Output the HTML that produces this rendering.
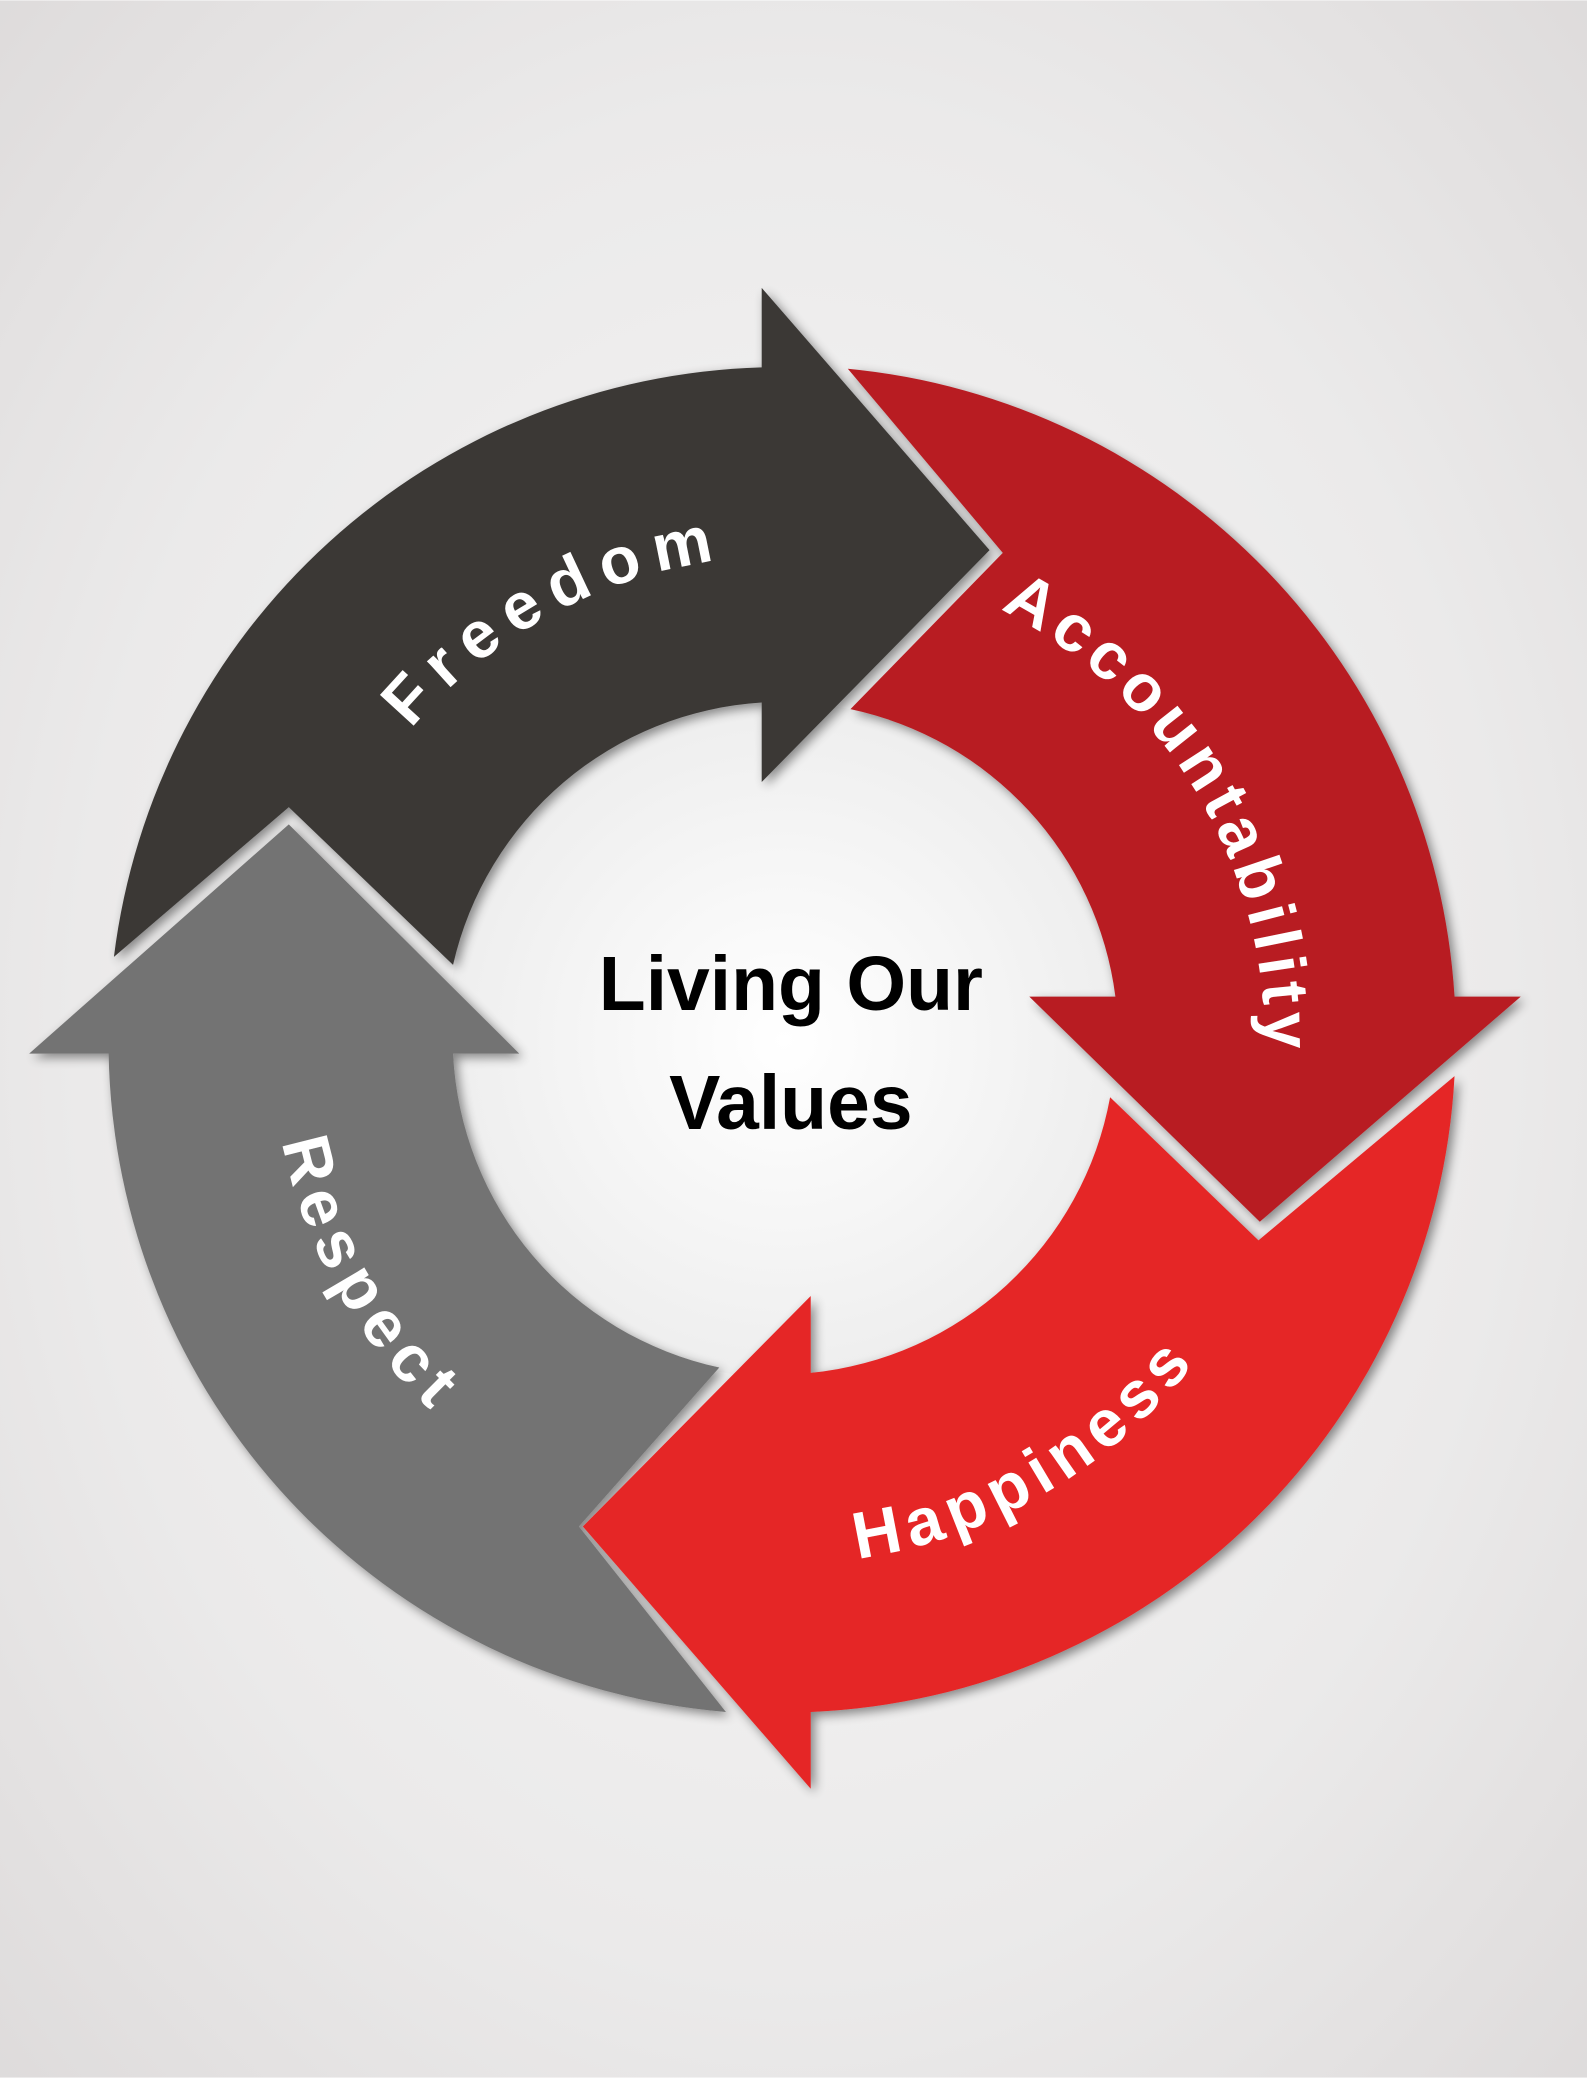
<!DOCTYPE html>
<html><head><meta charset="utf-8"><style>
html,body{margin:0;padding:0;width:1587px;height:2078px;overflow:hidden;}
svg{display:block;}
</style></head><body>
<svg width="1587" height="2078" viewBox="0 0 1198 1568" xmlns="http://www.w3.org/2000/svg">
<defs>
<radialGradient id="bg" cx="50%" cy="50%" r="75%">
<stop offset="0" stop-color="#f7f7f7"/><stop offset="0.6" stop-color="#ebeaea"/><stop offset="1" stop-color="#dcd9d9"/>
</radialGradient>
<radialGradient id="cg" cx="50%" cy="50%" r="50%">
<stop offset="0" stop-color="#ffffff"/><stop offset="1" stop-color="#eeeeee"/>
</radialGradient>
<filter id="sh" x="-10%" y="-10%" width="120%" height="120%">
<feGaussianBlur in="SourceAlpha" stdDeviation="4"/><feOffset dx="3" dy="3"/>
<feComponentTransfer><feFuncA type="linear" slope="0.45"/></feComponentTransfer>
<feMerge><feMergeNode/><feMergeNode in="SourceGraphic"/></feMerge>
</filter>
<path id="pF" d="M239,684 A365,365 0 0 1 691,434"/>
<path id="pA" d="M678,431 A365,365 0 0 1 944,873"/>
<path id="pH" d="M488,1167 A395,395 0 0 0 972,887"/>
<path id="pR" d="M220,679 A385,385 0 0 0 484,1155"/>
</defs>
<rect width="1198" height="1568" fill="url(#bg)"/>
<circle cx="592" cy="785" r="255" fill="url(#cg)"/>
<g filter="url(#sh)">
<path fill="#3a3836" d="M86,722 A508,508 0 0 1 575,277 L575,217 L747,415 L575,590 L575,530 A255,255 0 0 0 342,728 L218,609 Z"/>
<path fill="#b81c24" d="M640,278 A508,508 0 0 1 1098,752 L1148,752 L951,922 L777,752 L842,752 A255,255 0 0 0 642,535 L757,417 Z"/>
<path fill="#e52526" d="M1098,812 A508,508 0 0 1 612,1292 L612,1350 L440,1152 L612,978 L612,1036 A255,255 0 0 0 838,828 L950,936 Z"/>
<path fill="#737373" d="M548,1292 A508,508 0 0 1 82,795 L22,795 L218,622 L392,795 L342,795 A255,255 0 0 0 543,1032 L437,1152 Z"/>
</g>
<g font-family="Liberation Sans, sans-serif" font-weight="bold" fill="#ffffff" font-size="50">
<text><textPath href="#pF" startOffset="50%" text-anchor="middle" textLength="268" lengthAdjust="spacing">Freedom</textPath></text>
<text><textPath href="#pA" startOffset="50%" text-anchor="middle" textLength="408" lengthAdjust="spacing">Accountability</textPath></text>
<text><textPath href="#pH" startOffset="50%" text-anchor="middle" textLength="300" lengthAdjust="spacing">Happiness</textPath></text>
<text><textPath href="#pR" startOffset="50%" text-anchor="middle" textLength="235" lengthAdjust="spacing">Respect</textPath></text>
</g>
<g font-family="Liberation Sans, sans-serif" font-weight="bold" fill="#000" font-size="58" text-anchor="middle">
<text x="597" y="762">Living Our</text>
<text x="597" y="852">Values</text>
</g>
</svg>
</body></html>
